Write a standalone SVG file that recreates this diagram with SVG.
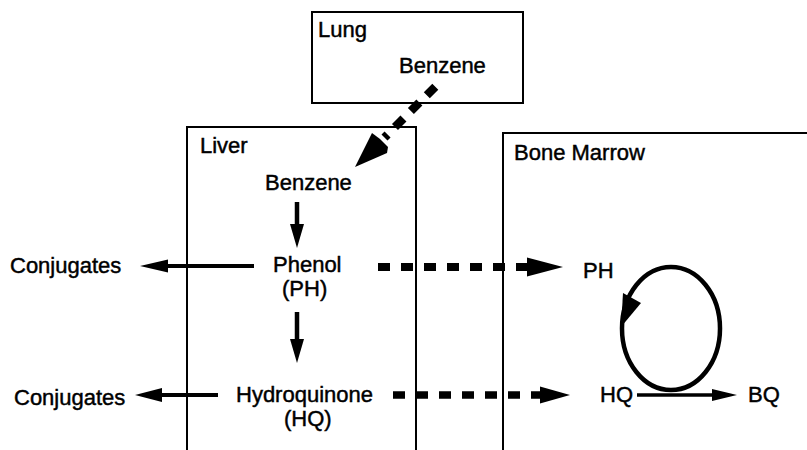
<svg xmlns="http://www.w3.org/2000/svg" width="807" height="450" viewBox="0 0 807 450">
<style>
text{font-family:"Liberation Sans",Arial,Helvetica,sans-serif;font-size:22px;fill:#000;stroke:#000;stroke-width:0.45}
.box{fill:none;stroke:#000;stroke-width:2}
.sh{stroke:#000;fill:none}
.hd{fill:#000;stroke:none}
</style>
<rect width="807" height="450" fill="#fff"/>
<g id="lung">
<rect class="box" x="312" y="12" width="211" height="91"/>
<text x="318" y="37">Lung</text>
<text x="399" y="73">Benzene</text>
</g>
<g id="liver">
<path class="box" d="M187,452 V127 H416 V452"/>
<text x="200" y="153">Liver</text>
<g id="liver-benzene"><text x="265" y="190">Benzene</text></g>
<g id="liver-phenol"><text x="273" y="272">Phenol</text><text x="282" y="296">(PH)</text></g>
<g id="liver-hq"><text x="236" y="402">Hydroquinone</text><text x="284" y="426">(HQ)</text></g>
</g>
<g id="bone-marrow">
<path class="box" d="M503,452 V133 H809"/>
<text x="514" y="160">Bone Marrow</text>
<g id="bm-ph"><text x="583" y="278">PH</text></g>
<g id="bm-hq"><text x="600" y="402">HQ</text></g>
<g id="bm-bq"><text x="748" y="402">BQ</text></g>
</g>
<g id="conj1"><text x="10" y="273">Conjugates</text></g>
<g id="conj2"><text x="14" y="405">Conjugates</text></g>
<g id="connectors">
<line class="sh" x1="436" y1="86" x2="384.5" y2="137.5" stroke-width="8.5" stroke-dasharray="12 10.5" stroke-dashoffset="-1"/>
<polygon class="hd" points="372,133 380,139 388,147 387,153 355,167"/>
<line class="sh" x1="297" y1="202" x2="297" y2="226" stroke-width="4.5"/>
<polygon class="hd" points="290,224 304,224 297,248"/>
<line class="sh" x1="297" y1="312" x2="297" y2="342" stroke-width="4.5"/>
<polygon class="hd" points="290,339 304,339 297,363"/>
<line class="sh" x1="254" y1="266" x2="165" y2="266" stroke-width="4"/>
<polygon class="hd" points="168,259.5 168,272.5 140,266"/>
<line class="sh" x1="218" y1="395" x2="158" y2="395" stroke-width="4"/>
<polygon class="hd" points="162,388 162,402 135,395"/>
<line class="sh" x1="378" y1="267" x2="530" y2="267" stroke-width="8" stroke-dasharray="12 11"/>
<polygon class="hd" points="527,257.5 563,267 527,276.5"/>
<line class="sh" x1="393" y1="395" x2="543" y2="395" stroke-width="7.5" stroke-dasharray="12 11"/>
<polygon class="hd" points="540,386.5 570,395 540,403.5"/>
<ellipse class="sh" cx="671" cy="328.5" rx="49" ry="61.5" stroke-width="4.5"/>
<polygon class="hd" points="623,293 641,303 621,327"/>
<line class="sh" x1="637" y1="395" x2="715" y2="395" stroke-width="3.5"/>
<polygon class="hd" points="712,389 712,401 737,395"/>
</g>
</svg>
